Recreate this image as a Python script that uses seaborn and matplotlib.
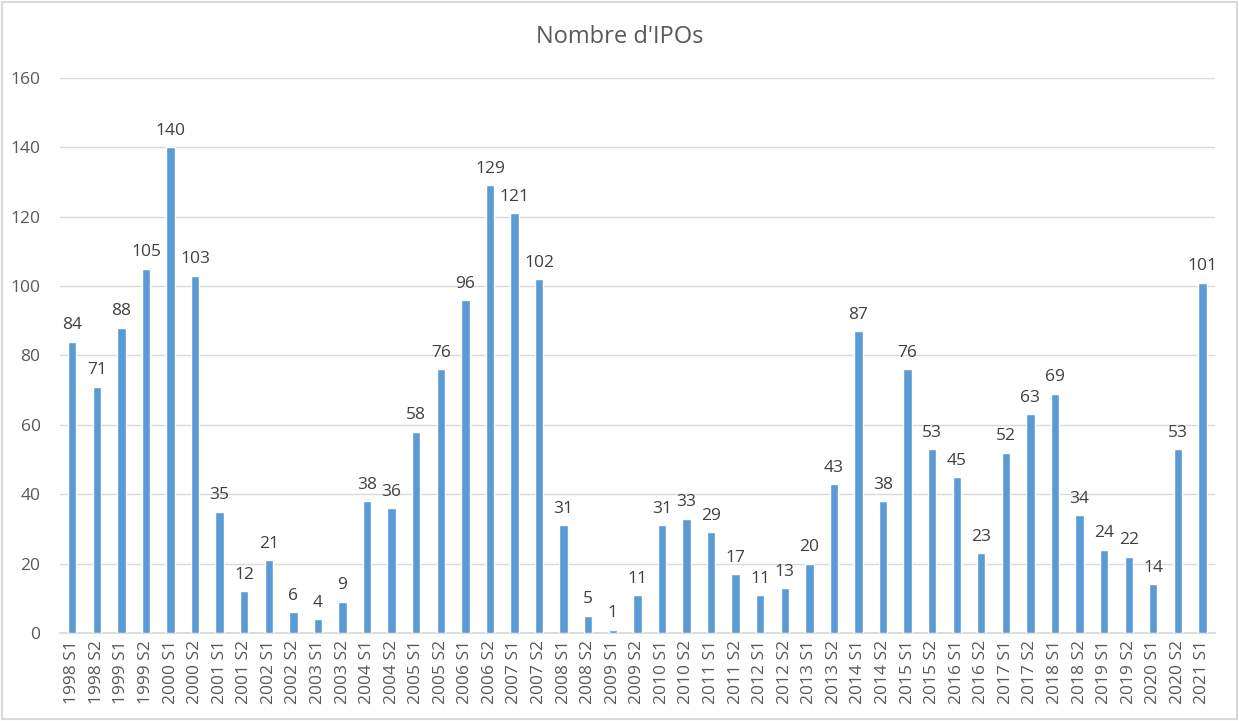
import matplotlib
matplotlib.use("Agg")
import matplotlib.pyplot as plt
import seaborn as sns
import pandas as pd

periods = ["1998 S1", "1998 S2", "1999 S1", "1999 S2", "2000 S1", "2000 S2", "2001 S1", "2001 S2",
           "2002 S1", "2002 S2", "2003 S1", "2003 S2", "2004 S1", "2004 S2", "2005 S1", "2005 S2",
           "2006 S1", "2006 S2", "2007 S1", "2007 S2", "2008 S1", "2008 S2", "2009 S1", "2009 S2",
           "2010 S1", "2010 S2", "2011 S1", "2011 S2", "2012 S1", "2012 S2", "2013 S1", "2013 S2",
           "2014 S1", "2014 S2", "2015 S1", "2015 S2", "2016 S1", "2016 S2", "2017 S1", "2017 S2",
           "2018 S1", "2018 S2", "2019 S1", "2019 S2", "2020 S1", "2020 S2", "2021 S1"]
ipos = [84, 71, 88, 105, 140, 103, 35, 12, 21, 6, 4, 9, 38, 36, 58, 76, 96, 129, 121, 102,
        31, 5, 1, 11, 31, 33, 29, 17, 11, 13, 20, 43, 87, 38, 76, 53, 45, 23, 52, 63,
        69, 34, 24, 22, 14, 53, 101]
yticks = [0, 20, 40, 60, 80, 100, 120, 140, 160]

sns.set_theme(style="white")
plt.rcParams['font.family'] = ['Open Sans', 'DejaVu Sans']
text_color = "#595959"

df = pd.DataFrame({"period": periods, "ipos": ipos})

fig = plt.figure(figsize=(12.39, 7.21), dpi=100)
ax = fig.add_axes([0.0484, 0.122, 0.932, 0.770])
sns.barplot(data=df, x="period", y="ipos", color="#5B9BD5", width=0.34, saturation=1, ax=ax, zorder=3)

ax.set_ylim(0, 160)
ax.set_xlim(-0.5, len(periods) - 0.5)
ax.set_yticks(yticks)
ax.set_yticklabels([str(v) for v in yticks], fontsize=12.5, color=text_color)
ax.set_xticks(range(len(periods)))
ax.set_xticklabels(periods, rotation=90, fontsize=12.5, color=text_color)
ax.tick_params(axis="y", length=0, pad=14)
ax.tick_params(axis="x", length=0, pad=5)
ax.grid(axis="y", color="#D9D9D9", linewidth=1, zorder=0)
for s in ["top", "right", "left"]:
    ax.spines[s].set_visible(False)
ax.spines["bottom"].set_color("#D9D9D9")
ax.set_xlabel("")
ax.set_ylabel("")

for i, v in enumerate(ipos):
    ax.annotate(str(v), (i, v), xytext=(0, 6), textcoords="offset points",
                ha="center", va="bottom", fontsize=12.5, color="#404040")

fig.text(0.5, 0.949, "Nombre d'IPOs", ha="center", va="center", fontsize=17, color=text_color)

border = plt.Rectangle((0.002, 0.003), 0.996, 0.994, transform=fig.transFigure,
                       fill=False, edgecolor="#D9D9D9", linewidth=1.5)
fig.patches.append(border)

fig.savefig("out.png", dpi=100)
